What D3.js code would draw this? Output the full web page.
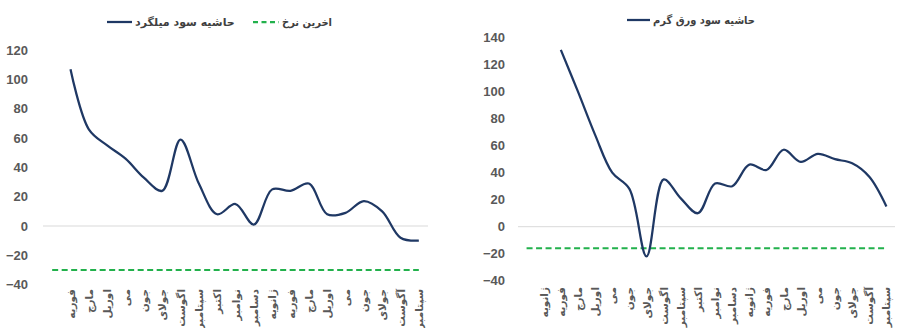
<!DOCTYPE html>
<html>
<head>
<meta charset="utf-8">
<script src="https://cdn.jsdelivr.net/npm/d3@7"></script>
<style>
  html, body { margin: 0; padding: 0; background: #fff; }
  svg { display: block; }
</style>
</head>
<body>
<svg id="chart" width="901" height="328"></svg>
<script>
// ---------- data ----------
const leftCategories = ["", "فوریه","مارچ","اوریل","می","جون","جولای","اگوست","سپتامبر","اکتبر","نوامبر","دسامبر","ژانویه","فوریه","مارچ","اوریل","می","جون","جولای","آگوست","سپتامبر"];
const rebarMargin = [null,107,66,55,46,33,24,59,29,8,15,1,25,24,29,8,9,17,10,-8,-10];
const rebarLastRate = [-30,-30,-30,-30,-30,-30,-30,-30,-30,-30,-30,-30,-30,-30,-30,-30,-30,-30,-30,-30,-30];
const leftTicks = [-40,-20,0,20,40,60,80,100,120];

const rightCategories = ["", "ژانویه","فوریه","مارچ","اوریل","می","جون","جولای","اگوست","سپتامبر","اکتبر","نوامبر","دسامبر","ژانویه","فوریه","مارچ","اوریل","می","جون","جولای","آگوست","سپتامبر"];
const hotSheetMargin = [null,null,131,100,68,40,28,-22,35,21,10,32,30,46,42,57,48,54,50,47,37,15];
const hotSheetLastRate = [-16,-16,-16,-16,-16,-16,-16,-16,-16,-16,-16,-16,-16,-16,-16,-16,-16,-16,-16,-16,-16,-16];
const rightTicks = [-40,-20,0,20,40,60,80,100,120,140];

const legendLeft = ["حاشیه سود میلگرد", "اخرین نرخ"];
const legendRight = ["حاشیه سود ورق گرم"];

// ---------- style ----------
const NAVY = "#1f3864";
const GREEN = "#22b14c";
const AXIS_TXT = "#595959";
const FA_FONT = "'DejaVu Sans', 'Noto Sans', sans-serif";
const NUM_FONT = "'Liberation Sans', Arial, sans-serif";

const svg = d3.select("#chart");

function panel(cfg) {
  const g = svg.append("g");
  const x = d3.scaleBand().domain(d3.range(cfg.cats.length)).range([cfg.x0, cfg.x1]);
  const y = d3.scaleLinear().domain([cfg.ticks[0], cfg.ticks[cfg.ticks.length-1]]).range([cfg.yBottom, cfg.yTop]);
  const cx = i => x(i) + x.bandwidth()/2;

  // zero line
  g.append("line")
    .attr("x1", cfg.x0).attr("x2", cfg.x1)
    .attr("y1", y(0)).attr("y2", y(0))
    .attr("stroke", "#d9d9d9").attr("stroke-width", 1);

  // y axis labels via d3 axis
  const yAxis = d3.axisLeft(y).tickValues(cfg.ticks).tickSize(0).tickPadding(0);
  const ya = g.append("g").attr("transform", `translate(${cfg.yLabelX},0)`).call(yAxis);
  ya.select(".domain").remove();
  ya.selectAll("text")
    .attr("fill", AXIS_TXT)
    .style("font-family", NUM_FONT)
    .style("font-size", "13px")
    .style("font-weight", "bold");

  // x axis labels
  const xa = g.append("g");
  xa.selectAll("text").data(cfg.cats).enter().append("text")
    .attr("transform", (d,i) => `translate(${cx(i)+4},${cfg.labelTop}) rotate(-90)`)
    .attr("text-anchor", "end")
    .attr("fill", AXIS_TXT)
    .style("font-family", FA_FONT)
    .style("font-size", "10.5px")
    .style("font-weight", "bold")
    .text(d => d);

  // dashed last rate
  const lineFlat = d3.line().x((d,i) => cx(i)).y(d => y(d));
  g.append("path")
    .attr("d", lineFlat(cfg.rate))
    .attr("fill", "none")
    .attr("stroke", GREEN)
    .attr("stroke-width", 2)
    .attr("stroke-dasharray", "6,3.5");

  // margin line (smoothed)
  const pts = cfg.values.map((v,i) => [cx(i), v]).filter(p => p[1] !== null);
  const smooth = d3.line().x(p => p[0]).y(p => y(p[1])).curve(d3.curveCatmullRom.alpha(0.5));
  g.append("path")
    .attr("d", smooth(pts))
    .attr("fill", "none")
    .attr("stroke", NAVY)
    .attr("stroke-width", 2.25)
    .attr("stroke-linejoin", "round");
  return g;
}

panel({
  cats: leftCategories, values: rebarMargin, rate: rebarLastRate, ticks: leftTicks,
  x0: 43, x1: 428, yBottom: 284.6, yTop: 50.2, yLabelX: 28, labelTop: 289
});
panel({
  cats: rightCategories, values: hotSheetMargin, rate: hotSheetLastRate, ticks: rightTicks,
  x0: 518, x1: 895, yBottom: 280.7, yTop: 37.7, yLabelX: 505, labelTop: 287
});

// ---------- legends ----------
function legendItem(x1, x2, y, label, color, dashed, maxW) {
  svg.append("line")
    .attr("x1", x1).attr("x2", x2).attr("y1", y).attr("y2", y)
    .attr("stroke", color).attr("stroke-width", 2.25)
    .attr("stroke-dasharray", dashed ? "5,3.5" : null);
  const t = svg.append("text")
    .attr("x", x2 + 3).attr("y", y + 4)
    .attr("text-anchor", "start")
    .attr("fill", "#404040")
    .style("font-family", FA_FONT)
    .style("font-size", "11px")
    .style("font-weight", "bold")
    .text(label);
  const w = t.node().getComputedTextLength();
  if (w > maxW) t.attr("textLength", maxW).attr("lengthAdjust", "spacingAndGlyphs");
}
legendItem(107, 132, 22, legendLeft[0], NAVY, false, 101);
legendItem(253, 279, 22, legendLeft[1], GREEN, true, 50);
legendItem(627, 650, 20, legendRight[0], NAVY, false, 102);
</script>
</body>
</html>
